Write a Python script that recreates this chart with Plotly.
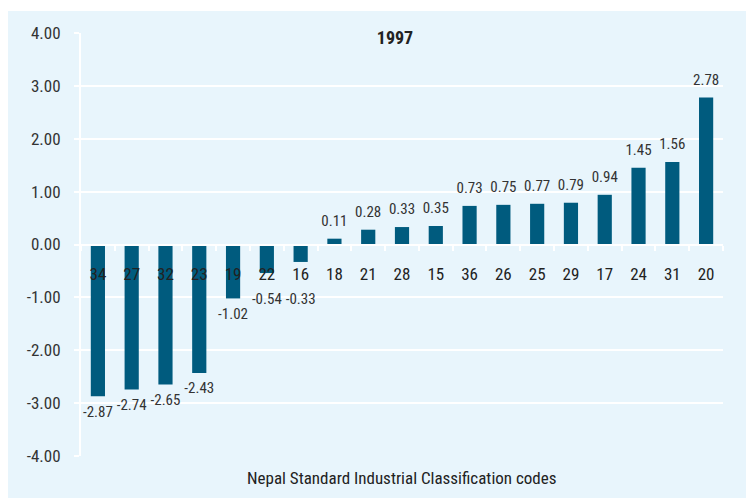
import plotly.graph_objects as go

codes = ["34", "27", "32", "23", "19", "22", "16", "18", "21", "28", "15",
         "36", "26", "25", "29", "17", "24", "31", "20"]
values = [-2.87, -2.74, -2.65, -2.43, -1.02, -0.54, -0.33, 0.11, 0.28, 0.33, 0.35,
          0.73, 0.75, 0.77, 0.79, 0.94, 1.45, 1.56, 2.78]
y_tickvals = [4, 3, 2, 1, 0, -1, -2, -3, -4]
y_ticktext = ["4.00", "3.00", "2.00", "1.00", "0.00", "-1.00", "-2.00", "-3.00", "-4.00"]
title_text = "1997"
x_title = "Nepal Standard Industrial Classification codes"

BG = "#e8f5fc"
BAR = "#005b7e"
TXT = "#333333"
FONT = "Liberation Sans Narrow, Roboto Condensed, Arial Narrow, Roboto, sans-serif"

# value labels: negative labels are kept clear of the category labels on the zero line
label_y = [v if v >= 0 else min(v, -0.74) for v in values]
label_pos = ["top center" if v >= 0 else "bottom center" for v in values]

fig = go.Figure()
fig.add_trace(go.Bar(
    x=codes, y=values,
    marker=dict(color=BAR, line=dict(width=0)),
    width=0.42,
    hoverinfo="x+y",
))
fig.add_trace(go.Scatter(
    x=codes, y=label_y,
    mode="markers+text",
    marker=dict(size=13, color="rgba(0,0,0,0)"),
    text=[f"{v:.2f}" for v in values],
    textposition=label_pos,
    textfont=dict(family=FONT, size=15, color=TXT),
    cliponaxis=False,
    hoverinfo="skip",
))

fig.update_layout(
    width=754, height=498,
    margin=dict(l=73, r=39, t=25, b=50),
    paper_bgcolor=BG,
    plot_bgcolor=BG,
    showlegend=False,
    font=dict(family=FONT, color=TXT),
    title=dict(text=title_text, x=387 / 754, xanchor="center",
               y=1 - 30 / 498, yanchor="middle",
               font=dict(family=FONT, size=18, color="#222222", weight="bold")),
    shapes=[dict(type="rect", xref="paper", yref="paper",
                 x0=-0.2, x1=1.2, y0=1 + 22 / 423, y1=1 + 26 / 423,
                 fillcolor="white", line=dict(width=0), layer="below")],
    annotations=[dict(text=x_title, xref="paper", yref="paper",
                      x=0.5, y=-22 / 423, xanchor="center", yanchor="middle",
                      showarrow=False,
                      font=dict(family=FONT, size=17, color="#222222"))],
)

fig.update_yaxes(
    range=[-4, 4], tickvals=y_tickvals, ticktext=y_ticktext,
    showgrid=True, gridcolor="white", gridwidth=2,
    zeroline=False,
    showline=True, linecolor="white", linewidth=2,
    ticks="outside", ticklen=5, tickcolor="white", tickwidth=2,
    ticklabelstandoff=10,
    tickfont=dict(family=FONT, size=17, color=TXT),
)
fig.update_xaxes(
    type="category",
    range=[-0.5, len(codes) - 0.5],
    anchor="free", position=0.5,
    showgrid=False, zeroline=False,
    showline=True, linecolor="white", linewidth=2,
    ticks="outside", ticklen=5, tickcolor="white", tickwidth=2,
    tickson="boundaries",
    ticklabelstandoff=14,
    tickfont=dict(family=FONT, size=17, color="#222222"),
)

fig.write_html("out.html")
